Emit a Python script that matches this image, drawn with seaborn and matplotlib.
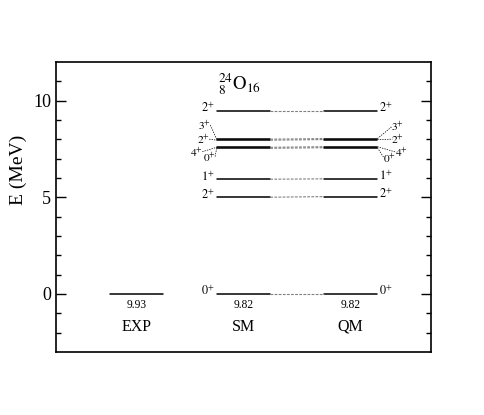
import matplotlib
matplotlib.use("Agg")
import matplotlib.pyplot as plt
import numpy as np
import pandas as pd
import seaborn as sns

# level energies (MeV) and spins
exp_E = [0.0]
sm_E = [0.0, 5.0, 5.93, 7.53, 7.58, 7.95, 8.0, 9.47]
qm_E = [0.0, 5.03, 5.95, 7.56, 7.61, 7.98, 8.03, 9.47]
spins = ["0", "2", "1", "0", "4", "2", "3", "2"]
binding = ["9.93", "9.82", "9.82"]
models = ["EXP", "SM", "QM"]

sns.set_style("ticks")
plt.rcParams["font.family"] = ["Liberation Serif", "DejaVu Serif"]
plt.rcParams["mathtext.fontset"] = "stix"
for k in ["text.color", "axes.labelcolor", "xtick.color", "ytick.color", "axes.edgecolor"]:
    plt.rcParams[k] = "black"

fig = plt.figure(figsize=(4.85, 4.15), dpi=100)
ax = fig.add_axes([0.1155, 0.152, 0.773, 0.699])

# model columns: x range of each level bar
cols = {"EXP": (1.0, 2.0), "SM": (3.0, 4.0), "QM": (5.0, 6.0)}

rows = []
for m, E in zip(models, [exp_E, sm_E, qm_E]):
    x0, x1 = cols[m]
    for i, e in enumerate(E):
        rows.append({"model": m, "lev": f"{m}{i}", "x": x0, "E": e})
        rows.append({"model": m, "lev": f"{m}{i}", "x": x1, "E": e})
levels = pd.DataFrame(rows)
sns.lineplot(data=levels, x="x", y="E", units="lev", estimator=None,
             color="black", lw=1.1, ax=ax, legend=False)

# dashed connections SM -> QM
links = []
for i, (a, b) in enumerate(zip(sm_E, qm_E)):
    links.append({"lev": i, "x": cols["SM"][1], "E": a})
    links.append({"lev": i, "x": cols["QM"][0], "E": b})
links = pd.DataFrame(links)
sns.lineplot(data=links, x="x", y="E", units="lev", estimator=None,
             color="gray", lw=0.8, ls=(0, (2.5, 1.2)), ax=ax, legend=False)

# spin labels: simple ones next to the bar ends
fs = 8.8
for idx in [0, 1, 2, 7]:
    ax.text(cols["SM"][0] - 0.03, sm_E[idx] + 0.12, rf"${spins[idx]}^{{+}}$",
            ha="right", va="center", fontsize=fs)
    ax.text(cols["QM"][1] + 0.03, qm_E[idx] + 0.12, rf"${spins[idx]}^{{+}}$",
            ha="left", va="center", fontsize=fs)

# crowded labels with dashed pointers (label x, label y)
fs2 = 8.2
sm_lab = {3: (2.87, 7.05), 4: (2.63, 7.3), 5: (2.76, 7.95), 6: (2.78, 8.68)}
qm_lab = {3: (6.22, 7.0), 4: (6.45, 7.28), 5: (6.38, 7.95), 6: (6.38, 8.62)}
for idx, (lx, ly) in sm_lab.items():
    ax.text(lx, ly, rf"${spins[idx]}^{{+}}$", ha="center", va="center", fontsize=fs2)
    ax.plot([lx + 0.1, cols["SM"][0]], [ly + 0.05, sm_E[idx]], color="black",
            lw=0.5, ls=(0, (2, 1.5)))
for idx, (lx, ly) in qm_lab.items():
    ax.text(lx, ly, rf"${spins[idx]}^{{+}}$", ha="center", va="center", fontsize=fs2)
    ax.plot([cols["QM"][1], lx - 0.1], [qm_E[idx], ly + 0.05], color="black",
            lw=0.5, ls=(0, (2, 1.5)))

# binding energies and model names
for m, b in zip(models, binding):
    xc = np.mean(cols[m])
    ax.text(xc, -0.55, b, ha="center", va="center", fontsize=8.3)
    ax.text(xc, -1.7, m, ha="center", va="center", fontsize=11.5)

ax.text(3.43, 10.85, r"${}^{24}_{8}\mathrm{O}_{16}$", ha="center", va="center",
        fontsize=13.5)

ax.set_xlim(0, 7)
ax.set_ylim(-3, 12)
ax.set_xticks([])
ax.set_yticks([0, 5, 10])
ax.set_yticks(np.arange(-2, 12, 1), minor=True)
ax.tick_params(axis="y", which="both", direction="in", left=True, right=True,
               labelsize=13)
ax.tick_params(axis="y", which="major", length=7, width=1)
ax.tick_params(axis="y", which="minor", length=3.5, width=1)
for s in ax.spines.values():
    s.set_visible(True)
    s.set_linewidth(1.2)
ax.set_xlabel("")
ax.set_ylabel("E (MeV)", fontsize=14)
ax.yaxis.set_label_coords(-0.077, 0.628)

fig.savefig("out.png", dpi=100)
